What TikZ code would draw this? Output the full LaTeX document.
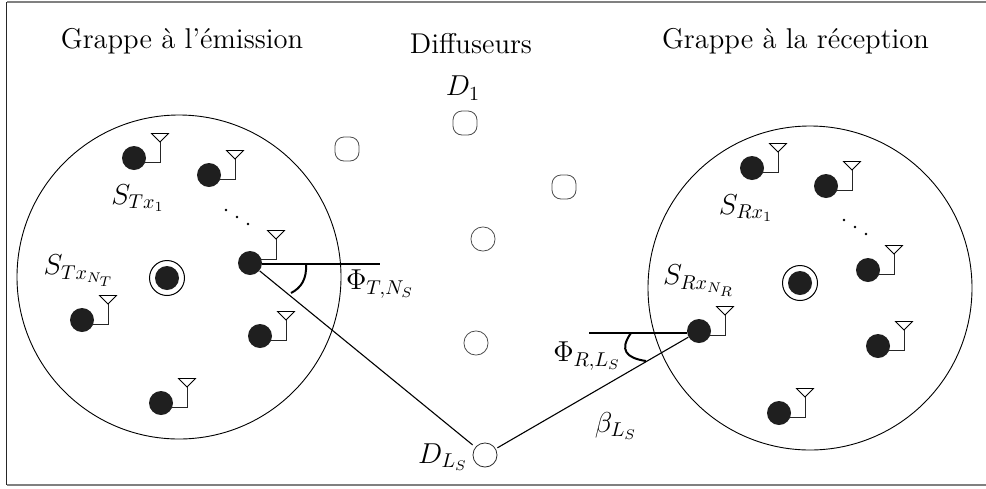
\documentclass[tikz,border=0pt]{standalone}
\usepackage{amsmath}
\usepackage{amssymb}
\usetikzlibrary{positioning,calc}

\begin{document}
\begin{tikzpicture}[x=0.5pt, y=-0.5pt,
    sensor/.style={circle, fill=black!88, minimum size=12pt, inner sep=0pt},
    centre/.style={circle, draw, line width=0.5pt, fill=white, minimum size=17.5pt, inner sep=0pt},
    grappe/.style={circle, draw, line width=0.45pt, minimum size=162pt, inner sep=0pt},
    diffuseur/.style={rectangle, draw=black!70, rounded corners=4.5pt, line width=0.4pt, minimum size=12pt, inner sep=0pt},
    label/.style={font=\fontsize{14.3}{16}\selectfont, inner sep=0pt},
    point/.style={circle, fill=black, minimum size=1.3pt, inner sep=0pt},
    liaison/.style={line width=0.55pt},
    axe/.style={line width=0.9pt},
    angle/.style={line width=1pt},
    antenna/.pic={
      \draw[line width=0.45pt, black!85] (10,4) -- (26,4) -- (26,-16);
      \draw[line width=0.4pt, fill=white] (26,-16) -- (17.5,-24.5) -- (34.5,-24.5) -- cycle;
    }
  ]

  \useasboundingbox (0,0) rectangle (986,488);
  \draw[line width=1pt, black!50] (986,2) -- (6.5,2);
  \draw[line width=1pt, black!50] (6.5,485) -- (986,485);
  \draw[line width=0.7pt, black!85] (6.5,2) -- (6.5,485);

  % grappes
  \node[grappe] (tx) at (179,277) {};
  \node[grappe] (rx) at (810,288) {};

  % capteurs
  \node[sensor] (t1) at (134,158) {};
  \node[sensor] (t2) at (209,175) {};
  \node[sensor] (t3) at (250,263) {};
  \node[sensor] (t4) at (260,336) {};
  \node[sensor] (t5) at (161,403) {};
  \node[sensor] (t6) at (82,320) {};
  \node[sensor] (r1) at (752,168) {};
  \node[sensor] (r2) at (826,186) {};
  \node[sensor] (r3) at (868,270) {};
  \node[sensor] (r4) at (878,346) {};
  \node[sensor] (r5) at (779,413) {};
  \node[sensor] (r6) at (699,331) {};

  \foreach \s in {t1,t2,t4,t5,t6,r1,r2,r3,r4,r5,r6}
    \pic at (\s) {antenna};
  \pic at ([yshift=4pt]t3.center) {antenna};

  % centres
  \node[centre] (ct) at (167,278) {};
  \node[sensor] at (ct) {};
  \node[centre] (cr) at (800,283) {};
  \node[sensor] at (cr) {};

  % diffuseurs
  \node[diffuseur] (d1) at (465,123) {};
  \node[diffuseur] (d2) at (347,149) {};
  \node[diffuseur] (d3) at (564,187) {};
  \node[diffuseur, rounded corners=5.8pt] (d4) at (483,239) {};
  \node[diffuseur, rounded corners=5.8pt] (d5) at (476,343) {};
  \node[diffuseur, draw=black!85, rounded corners=5.9pt] (dl) at (485,455) {};

  \coordinate (axet) at (380,264);
  \coordinate (axer) at (589,333);
  \draw[liaison] (t3) -- (dl);
  \draw[liaison] (dl) -- (r6);
  \draw[axe] (t3.east |- axet) -- (axet);
  \draw[axe] (r6.west |- axer) -- (axer);
  \draw[angle] (306,264) .. controls (307,279) and (301,288) .. (291,293);
  \draw[angle] (631,333) .. controls (619,350) and (626,358) .. (646,361);

  % points de suspension
  \node[point] at (226,210) {};
  \node[point] at (237,217) {};
  \node[point] at (248,224) {};
  \node[point] at (844,220) {};
  \node[point] at (855,227) {};
  \node[point] at (866,234) {};

  % textes
  \node[label] at (182,41) {Grappe à l'émission};
  \node[label] at (471,44) {Diffuseurs};
  \node[label] at (795.5,41) {Grappe à la réception};
  \node[label] at (463,88) {$D_1$};
  \node[label] at (138,198) {$S_{Tx_1}$};
  \node[label] at (79,271) {$S_{Tx_{N_T}}$};
  \node[label] at (380,284) {$\Phi_{T,N_S}$};
  \node[label] at (746,208) {$S_{Rx_1}$};
  \node[label] at (699,281) {$S_{Rx_{N_R}}$};
  \node[label] at (587,356) {$\Phi_{R,L_S}$};
  \node[label] at (616,426) {$\beta_{L_S}$};
  \node[label] at (443,457) {$D_{L_S}$};
\end{tikzpicture}
\end{document}
